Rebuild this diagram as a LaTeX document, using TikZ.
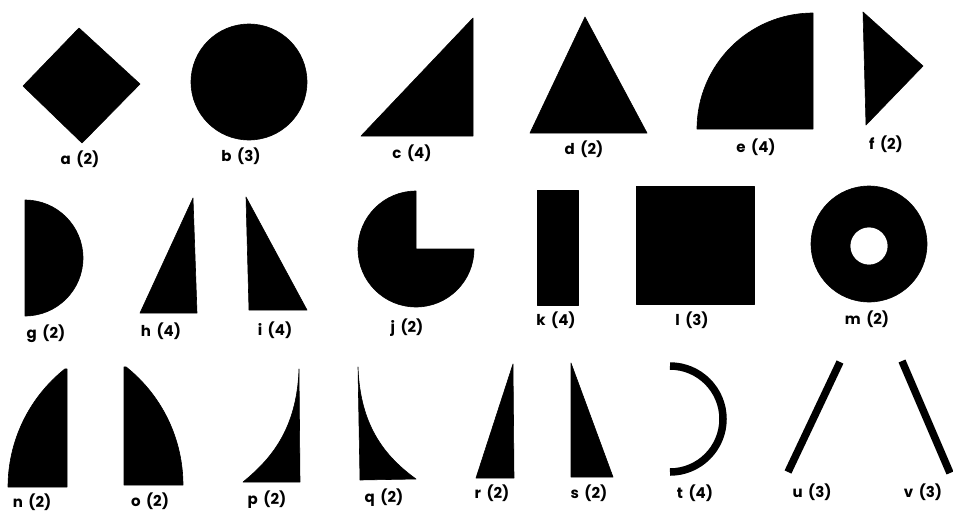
\documentclass[tikz,border=0pt]{standalone}
\usepackage{fontspec}
\setmainfont{Poppins}
\usepackage{tikz}
\usetikzlibrary{calc}
\newcommand\tagfont{\fontsize{15}{17}\selectfont\bfseries\spaceskip=5.5pt\relax}
\tikzset{
  shp/.style={fill=black,draw=black,line width=0.6,line join=round},
  bar/.style={draw=black,line width=7.5},
  tag/.style={font=\tagfont,inner sep=0pt,text=black}
}

\begin{document}
\begin{tikzpicture}[x=1pt,y=-1pt]
  \useasboundingbox (0,0) rectangle (953,512);

  % --- Top row: a to f ---
  \fill[shp] (23,86) -- (79,28) -- (140,84) -- (82,143) -- cycle;
  \fill[shp] (249,82) circle (58);
  \fill[shp] (361,136) -- (473,18) -- (473,136) -- cycle;
  \fill[shp] (585,17) -- (647,133) -- (530,133) -- cycle;
  \fill[shp] (697,129) arc[start angle=180,end angle=270,radius=116] -- (813,129) -- cycle;
  \fill[shp] (863,12) -- (923,66) -- (866,125) -- cycle;

  \node[tag] (la) at (80,159)  {a (2)};
  \node[tag] (lb) at (241,156) {b (3)};
  \node[tag] (lc) at (412,153) {c (4)};
  \node[tag] (ld) at (584,149) {d (2)};
  \node[tag] (le) at (756,147) {e (4)};
  \node[tag] (lf) at (886,144) {f (2)};

  % --- Middle row: g to m ---
  \fill[shp] (25,200) arc[start angle=-90,end angle=90,radius=58] -- cycle;
  \fill[shp] (193,198) -- (197,313) -- (140,313) -- cycle;
  \fill[shp] (246,197) -- (307,310) -- (249,310) -- cycle;
  \fill[shp] (416,249) -- (474,249) arc[start angle=0,end angle=270,radius=58] -- cycle;
  \fill[shp] (537,190) rectangle (578,305);
  \fill[shp] (636,186) rectangle (754,304);
  \fill[shp,even odd rule] (869,244) circle (58) (869,246) circle (19);

  \node[tag] (lg) at (46,334)  {g (2)};
  \node[tag] (lh) at (161,331) {h (4)};
  \node[tag] (li) at (275,330) {i (4)};
  \node[tag] (lj) at (407,328) {j (2)};
  \node[tag] (lk) at (556,320) {k (4)};
  \node[tag] (ll) at (692,320) {l (3)};
  \node[tag] (lm) at (867,319) {m (2)};

  % --- Bottom row: n to v ---
  \fill[shp] (8,487) arc[start angle=180,end angle=231.5,radius=151] -- (67,369) -- (67,487) -- cycle;
  \fill[shp] (183,485) arc[start angle=0,end angle=-51.5,radius=151] -- (124,367) -- (124,485) -- cycle;
  \fill[shp] (299,369) .. controls (297,430) and (270,460) .. (243,482) -- (300,482) -- cycle;
  \fill[shp] (358,367) .. controls (360,428) and (387,458) .. (416,479) -- (360,480) -- cycle;
  \fill[shp] (513,364) -- (514,478) -- (476,478) -- cycle;
  \fill[shp] (571,363) -- (613,477) -- (571,477) -- cycle;
  \draw[bar] (670,366) arc[start angle=-90,end angle=90,radius=53];
  \draw[bar] (788,472) -- (840,362);
  \draw[bar] (902,361) -- (950,473);

  \node[tag] (ln) at (32,502)  {n (2)};
  \node[tag] (lo) at (150,501) {o (2)};
  \node[tag] (lp) at (267,500) {p (2)};
  \node[tag] (lq) at (384,498) {q (2)};
  \node[tag] (lr) at (492,493) {r (2)};
  \node[tag] (ls) at (589,493) {s (2)};
  \node[tag] (lt) at (695,493) {t (4)};
  \node[tag] (lu) at (812,492) {u (3)};
  \node[tag] (lv) at (923,492) {v (3)};
\end{tikzpicture}
\end{document}
